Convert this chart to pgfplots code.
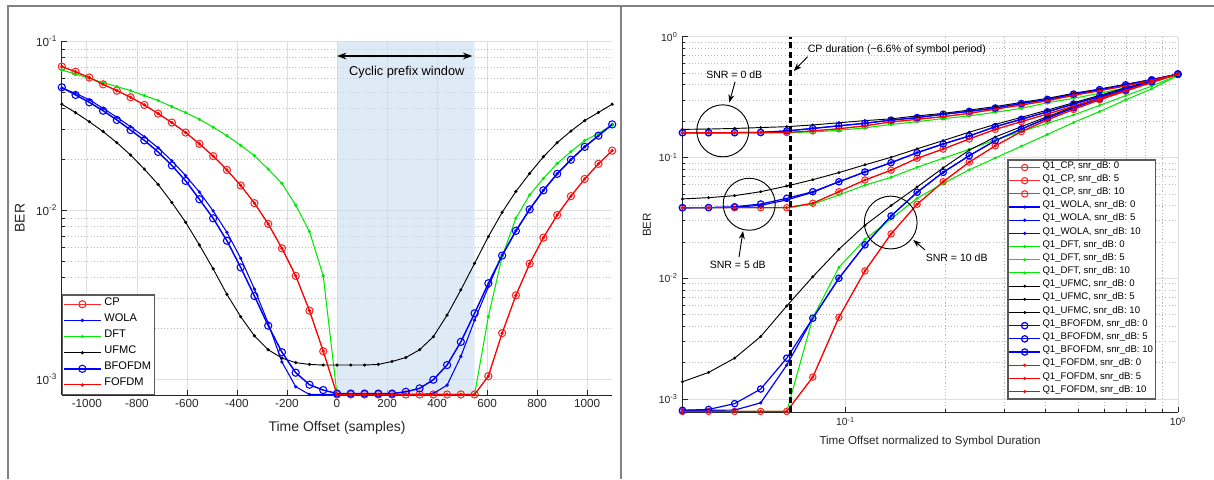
\documentclass[border=0pt]{standalone}
\usepackage{fontspec}
\setmainfont{Liberation Sans}
\usepackage{pgfplots}
\pgfplotsset{compat=1.18}
\usepackage{pgfplotstable}
\usetikzlibrary{arrows.meta}

\definecolor{axgray}{RGB}{38,38,38}
\definecolor{gridmaj}{RGB}{222,222,222}
\definecolor{gridmin}{RGB}{185,185,185}
\definecolor{framegray}{RGB}{130,130,130}
\definecolor{cpshade}{RGB}{200,222,240}
\definecolor{mred}{RGB}{255,0,0}
\definecolor{cpred}{RGB}{255,40,40}
\definecolor{mblue}{RGB}{0,0,255}
\definecolor{mgreen}{RGB}{0,235,0}
\definecolor{leggray}{RGB}{90,90,90}

\pgfplotstableread{
x cp wola dft ufmc bf
-1100 0.0708 0.0527 0.0676 0.0424 0.0534
-1045 0.0660 0.0492 0.0640 0.0378 0.0481
-990 0.0610 0.0450 0.0604 0.0334 0.0435
-935 0.0556 0.0401 0.0569 0.0292 0.0388
-880 0.0510 0.0355 0.0539 0.0251 0.0342
-825 0.0466 0.0312 0.0510 0.0212 0.0298
-770 0.0420 0.0272 0.0477 0.0175 0.0259
-715 0.0373 0.0234 0.0446 0.0142 0.0221
-660 0.0330 0.0196 0.0410 0.0111 0.0184
-605 0.0288 0.0160 0.0378 0.00847 0.0149
-550 0.0247 0.0128 0.0345 0.00622 0.0116
-495 0.0209 0.00989 0.0310 0.00449 0.00895
-440 0.0173 0.00739 0.0276 0.00317 0.00659
-385 0.0140 0.00519 0.0242 0.00234 0.00458
-330 0.0110 0.00341 0.0210 0.00180 0.00310
-275 0.00829 0.00214 0.0175 0.00149 0.00207
-220 0.00594 0.00126 0.0144 0.00133 0.00144
-165 0.00408 0.00090 0.0107 0.00125 0.00109
-110 0.00254 0.00081 0.00746 0.00122 0.000925
-55 0.00146 0.00081 0.00408 0.00121 0.00086
0 0.00081 0.00081 0.00081 0.00121 0.00082
55 0.00081 0.00081 0.00081 0.00121 0.00082
110 0.00081 0.00081 0.00081 0.00121 0.00082
165 0.00081 0.00081 0.00081 0.00122 0.00082
220 0.00081 0.00081 0.00081 0.00127 0.00082
275 0.00081 0.00081 0.00081 0.00134 0.00084
330 0.00081 0.00081 0.00081 0.00149 0.00088
385 0.00081 0.00082 0.00081 0.00178 0.00099
440 0.00081 0.00092 0.00081 0.00239 0.00121
495 0.00081 0.00136 0.00081 0.00337 0.00166
550 0.00081 0.00223 0.00081 0.00484 0.00245
605 0.00104 0.00352 0.00234 0.00697 0.00369
660 0.00187 0.00542 0.00531 0.00970 0.00538
715 0.00313 0.00754 0.00895 0.0129 0.00754
770 0.00482 0.0101 0.0123 0.0165 0.0101
825 0.00687 0.0131 0.0154 0.0207 0.0131
880 0.00935 0.0164 0.0189 0.0251 0.0164
935 0.0121 0.0199 0.0222 0.0294 0.0199
990 0.0153 0.0237 0.0258 0.0339 0.0237
1045 0.0188 0.0276 0.0285 0.0379 0.0276
1100 0.0225 0.0322 0.0319 0.0424 0.0322
}\lefttab

\pgfplotstableread{
x cp wola dft ufmc bf
0.03236 0.1604 0.1604 0.1604 0.171 0.1604
0.03877 0.1604 0.1604 0.1604 0.172 0.1604
0.04643 0.1604 0.1606 0.1604 0.174 0.1606
0.05562 0.1605 0.1615 0.1604 0.177 0.1615
0.06662 0.1610 0.166 0.1604 0.180 0.166
0.0798 0.166 0.174 0.163 0.186 0.174
0.0956 0.173 0.183 0.168 0.194 0.183
0.1145 0.183 0.192 0.176 0.202 0.192
0.1372 0.197 0.204 0.188 0.209 0.204
0.1643 0.207 0.214 0.198 0.221 0.214
0.1968 0.218 0.228 0.210 0.232 0.228
0.2357 0.232 0.241 0.221 0.247 0.241
0.2823 0.251 0.257 0.237 0.264 0.257
0.3381 0.272 0.280 0.255 0.286 0.280
0.4050 0.295 0.303 0.284 0.309 0.303
0.4853 0.327 0.335 0.309 0.340 0.335
0.5812 0.357 0.365 0.340 0.369 0.365
0.6963 0.392 0.400 0.378 0.404 0.400
0.8340 0.435 0.440 0.425 0.443 0.440
1.0 0.490 0.490 0.485 0.492 0.490
}\snrzero

\pgfplotstableread{
x cp wola dft ufmc bf
0.03236 0.0384 0.0384 0.0384 0.0454 0.0384
0.03877 0.0384 0.0384 0.0384 0.0465 0.0385
0.04643 0.0384 0.0387 0.0384 0.0483 0.0391
0.05562 0.0384 0.0402 0.0384 0.0521 0.0412
0.06662 0.0384 0.0445 0.0384 0.0580 0.0459
0.0798 0.0418 0.0515 0.0410 0.0655 0.0521
0.0956 0.0521 0.0630 0.0490 0.0750 0.0630
0.1145 0.0651 0.0759 0.0590 0.0870 0.0759
0.1372 0.0785 0.0906 0.0686 0.1004 0.0906
0.1643 0.0985 0.1096 0.0830 0.118 0.1096
0.1968 0.1175 0.1294 0.0985 0.138 0.1294
0.2357 0.1423 0.1507 0.117 0.162 0.1507
0.2823 0.171 0.180 0.140 0.188 0.180
0.3381 0.198 0.207 0.164 0.215 0.207
0.4050 0.229 0.239 0.192 0.247 0.239
0.4853 0.267 0.277 0.225 0.284 0.277
0.5812 0.309 0.320 0.270 0.327 0.320
0.6963 0.360 0.372 0.325 0.378 0.372
0.8340 0.420 0.430 0.390 0.434 0.430
1.0 0.490 0.490 0.480 0.492 0.490
}\snrfive

\pgfplotstableread{
x cp wola dft ufmc bf
0.03236 0.00079 0.000807 0.00079 0.00139 0.000807
0.03877 0.00079 0.000807 0.00079 0.00166 0.00082
0.04643 0.00079 0.00081 0.00079 0.00218 0.000916
0.05562 0.00079 0.00093 0.00079 0.00329 0.00121
0.06662 0.00079 0.00191 0.00079 0.0059 0.00218
0.0798 0.00152 0.00467 0.0047 0.0103 0.00467
0.0956 0.00475 0.0100 0.0123 0.0174 0.0100
0.1145 0.0115 0.0189 0.0210 0.0275 0.0189
0.1372 0.0233 0.0328 0.0310 0.0400 0.0328
0.1643 0.0410 0.0515 0.0460 0.0570 0.0515
0.1968 0.0630 0.0754 0.0610 0.0820 0.0754
0.2357 0.0915 0.1035 0.0790 0.115 0.1035
0.2823 0.125 0.138 0.099 0.148 0.138
0.3381 0.1637 0.172 0.124 0.180 0.172
0.4050 0.205 0.212 0.155 0.218 0.212
0.4853 0.250 0.258 0.195 0.263 0.258
0.5812 0.300 0.308 0.240 0.313 0.308
0.6963 0.355 0.362 0.300 0.366 0.362
0.8340 0.418 0.424 0.370 0.428 0.424
1.0 0.490 0.490 0.478 0.492 0.490
}\snrten

\pgfplotsset{
  mlab/.style={
    scale only axis, anchor=south west,
    axis lines*=left,
    axis line style={draw=axgray, line width=0.6pt},
    tick align=inside,
    major tick length=4pt, minor tick length=2.3pt,
    every tick/.append style={draw=axgray, line width=0.5pt},
    xmajorgrids, ymajorgrids, yminorgrids,
    major grid style={draw=gridmaj, line width=0.5pt},
    minor grid style={draw=gridmin, line width=0.45pt, dash pattern=on 0.8pt off 1.6pt},
    clip mode=individual,
    label style={text=axgray},
    tick label style={text=axgray},
    legend cell align=left,
  },
}

\begin{document}
\begin{tikzpicture}
\useasboundingbox (0,0) rectangle (910.5pt,359.25pt);
\draw[framegray, line width=1.5pt] (5.9pt,0) -- (5.9pt,355pt);
\draw[framegray, line width=1.5pt] (5.15pt,355pt) -- (910.5pt,355pt);
\draw[framegray, line width=1.5pt] (466pt,0) -- (466pt,355pt);

% ---------------- left axis ----------------
\begin{axis}[mlab,
  at={(46.35pt,63pt)}, width=412.8pt, height=265.3pt,
  xmin=-1100, xmax=1100, ymode=log, ymin=8.04e-4, ymax=0.1,
  xtick={-1000,-800,-600,-400,-200,0,200,400,600,800,1000},
  xticklabels={-1000,-800,-600,-400,-200,0,200,400,600,800,1000},
  ytick={1e-3,1e-2,1e-1},
  yticklabels={10\textsuperscript{-3},10\textsuperscript{-2},10\textsuperscript{-1}},
  tick label style={font=\fontsize{8.8}{10}\selectfont},
  xlabel={Time Offset (samples)}, ylabel={BER},
  label style={font=\fontsize{10.5}{12}\selectfont},
  xlabel style={at={(axis description cs:0.5,-0.0925)}, anchor=center},
  ylabel style={at={(axis description cs:-0.0763,0.5)}, anchor=center},
  legend image code/.code={\draw[mark repeat=2,mark phase=2,#1] plot coordinates {(0pt,0pt) (13.9pt,0pt) (27.8pt,0pt)};},
  legend style={at={(0,0)}, anchor=south west, draw=leggray, line width=1pt, fill=white,
    font=\fontsize{8.3}{9}\selectfont, inner xsep=0.5pt, inner ysep=1pt, row sep=0pt,
    nodes={inner xsep=2pt, inner ysep=0pt, text height=6.6pt, text depth=5.5pt}},
]
\addplot[draw=none, fill=cpshade, fill opacity=0.6, forget plot] coordinates {(0,8.04e-4) (550,8.04e-4) (550,0.1) (0,0.1) (0,8.04e-4)};
\addplot[color=cpred, line width=0.8pt, mark=o, mark size=2.7pt, mark options={solid}] table[x=x,y=cp]{\lefttab};
\addlegendentry{CP}
\addplot[color=mblue, line width=0.8pt, mark=*, mark size=0.8pt] table[x=x,y=wola]{\lefttab};
\addlegendentry{WOLA}
\addplot[color=mgreen, line width=0.8pt, mark=*, mark size=0.8pt] table[x=x,y=dft]{\lefttab};
\addlegendentry{DFT}
\addplot[color=black, line width=0.7pt, mark=*, mark size=0.8pt] table[x=x,y=ufmc]{\lefttab};
\addlegendentry{UFMC}
\addplot[color=mblue, line width=1.1pt, mark=o, mark size=2.7pt, mark options={solid, line width=0.8pt}] table[x=x,y=bf]{\lefttab};
\addlegendentry{BFOFDM}
\addplot[color=mred, line width=0.8pt, mark=*, mark size=0.8pt] table[x=x,y=cp]{\lefttab};
\addlegendentry{FOFDM}
\draw[{Stealth[length=7pt,width=5pt]}-{Stealth[length=7pt,width=5pt]}, line width=1pt, black] (axis cs:0,0.0818) -- (axis cs:541,0.0818);
\node[font=\fontsize{9.6}{11}\selectfont, black] at (axis cs:279,0.066) {Cyclic prefix window};
\end{axis}

% ---------------- right axis ----------------
\begin{axis}[mlab,
  at={(511.65pt,50pt)}, width=371.8pt, height=281.7pt,
  xmode=log, ymode=log, xmin=0.0323, xmax=1, ymin=7.76e-4, ymax=1,
  xminorgrids,
  xtick={0.1,1}, xticklabels={10\textsuperscript{-1},10\textsuperscript{0}},
  ytick={1e-3,1e-2,1e-1,1},
  yticklabels={10\textsuperscript{-3},10\textsuperscript{-2},10\textsuperscript{-1},10\textsuperscript{0}},
  tick label style={font=\fontsize{7.8}{9}\selectfont},
  xlabel={Time Offset normalized to Symbol Duration}, ylabel={BER},
  label style={font=\fontsize{8.7}{10}\selectfont},
  xlabel style={at={(axis description cs:0.5,-0.0783)}, anchor=center},
  ylabel style={at={(axis description cs:-0.071,0.4987)}, anchor=center},
  legend image code/.code={\draw[mark repeat=2,mark phase=2,#1] plot coordinates {(0pt,0pt) (11.5pt,0pt) (23pt,0pt)};},
  legend style={at={(0.6558,0.6736)}, anchor=north west, draw=leggray, line width=1pt, fill=white,
    font=\fontsize{7.2}{8}\selectfont, inner xsep=0.6pt, inner ysep=0.7pt, row sep=0pt,
    nodes={inner xsep=1.4pt, inner ysep=0pt, text height=5.4pt, text depth=4.485pt}},
]
\addplot[color=cpred, line width=0.8pt, mark=o, mark size=2.4pt, mark options={solid}] table[x=x,y=cp]{\snrzero};
\addlegendentry{Q1\_CP, snr\_dB: 0}
\addplot[color=cpred, line width=0.8pt, mark=o, mark size=2.4pt, mark options={solid}] table[x=x,y=cp]{\snrfive};
\addlegendentry{Q1\_CP, snr\_dB: 5}
\addplot[color=cpred, line width=0.8pt, mark=o, mark size=2.4pt, mark options={solid}] table[x=x,y=cp]{\snrten};
\addlegendentry{Q1\_CP, snr\_dB: 10}
\addplot[color=mblue, line width=0.9pt, mark=*, mark size=0.7pt] table[x=x,y=wola]{\snrzero};
\addlegendentry{Q1\_WOLA, snr\_dB: 0}
\addplot[color=mblue, line width=0.9pt, mark=*, mark size=0.7pt] table[x=x,y=wola]{\snrfive};
\addlegendentry{Q1\_WOLA, snr\_dB: 5}
\addplot[color=mblue, line width=0.9pt, mark=*, mark size=0.7pt] table[x=x,y=wola]{\snrten};
\addlegendentry{Q1\_WOLA, snr\_dB: 10}
\addplot[color=mgreen, line width=0.8pt, mark=*, mark size=0.7pt] table[x=x,y=dft]{\snrzero};
\addlegendentry{Q1\_DFT, snr\_dB: 0}
\addplot[color=mgreen, line width=0.8pt, mark=*, mark size=0.7pt] table[x=x,y=dft]{\snrfive};
\addlegendentry{Q1\_DFT, snr\_dB: 5}
\addplot[color=mgreen, line width=0.8pt, mark=*, mark size=0.7pt] table[x=x,y=dft]{\snrten};
\addlegendentry{Q1\_DFT, snr\_dB: 10}
\addplot[color=black, line width=0.7pt, mark=*, mark size=0.7pt] table[x=x,y=ufmc]{\snrzero};
\addlegendentry{Q1\_UFMC, snr\_dB: 0}
\addplot[color=black, line width=0.7pt, mark=*, mark size=0.7pt] table[x=x,y=ufmc]{\snrfive};
\addlegendentry{Q1\_UFMC, snr\_dB: 5}
\addplot[color=black, line width=0.7pt, mark=*, mark size=0.7pt] table[x=x,y=ufmc]{\snrten};
\addlegendentry{Q1\_UFMC, snr\_dB: 10}
\addplot[color=mblue, line width=0.9pt, mark=o, mark size=2.4pt, mark options={solid}] table[x=x,y=bf]{\snrzero};
\addlegendentry{Q1\_BFOFDM, snr\_dB: 0}
\addplot[color=mblue, line width=0.9pt, mark=o, mark size=2.4pt, mark options={solid}] table[x=x,y=bf]{\snrfive};
\addlegendentry{Q1\_BFOFDM, snr\_dB: 5}
\addplot[color=mblue, line width=0.9pt, mark=o, mark size=2.4pt, mark options={solid}] table[x=x,y=bf]{\snrten};
\addlegendentry{Q1\_BFOFDM, snr\_dB: 10}
\addplot[color=mred, line width=0.8pt, mark=*, mark size=0.7pt] table[x=x,y=cp]{\snrzero};
\addlegendentry{Q1\_FOFDM, snr\_dB: 0}
\addplot[color=mred, line width=0.8pt, mark=*, mark size=0.7pt] table[x=x,y=cp]{\snrfive};
\addlegendentry{Q1\_FOFDM, snr\_dB: 5}
\addplot[color=mred, line width=0.8pt, mark=*, mark size=0.7pt] table[x=x,y=cp]{\snrten};
\addlegendentry{Q1\_FOFDM, snr\_dB: 10}
\addplot[black, line width=1.6pt, dash pattern=on 4.5pt off 2.5pt, forget plot] coordinates {(0.0684,7.76e-4) (0.0684,1)};
% annotations
\draw[black, line width=0.7pt] (rel axis cs:0.0819,0.7495) circle [radius=19.5pt];
\draw[black, line width=0.7pt] (rel axis cs:0.1352,0.554) circle [radius=19.5pt];
\draw[black, line width=0.7pt] (rel axis cs:0.4206,0.5053) circle [radius=19.8pt];
\node[font=\fontsize{7.9}{9}\selectfont, black] at (rel axis cs:0.105,0.898) {SNR = 0 dB};
\draw[-{Stealth[length=6pt,width=4.5pt]}, line width=0.7pt, black] (rel axis cs:0.1067,0.880) -- (rel axis cs:0.0950,0.825);
\node[font=\fontsize{7.9}{9}\selectfont, black] at (rel axis cs:0.112,0.392) {SNR = 5 dB};
\draw[-{Stealth[length=6pt,width=4.5pt]}, line width=0.7pt, black] (rel axis cs:0.1146,0.4135) -- (rel axis cs:0.1227,0.4827);
\node[font=\fontsize{7.9}{9}\selectfont, black] at (rel axis cs:0.5537,0.4116) {SNR = 10 dB};
\draw[-{Stealth[length=6pt,width=4.5pt]}, line width=0.7pt, black] (rel axis cs:0.4898,0.4323) -- (rel axis cs:0.4662,0.4589);
\node[font=\fontsize{8}{9}\selectfont, black, anchor=west, inner sep=0pt] at (rel axis cs:0.2528,0.9646) {CP duration (\textasciitilde6.6\% of symbol period)};
\draw[-{Stealth[length=6pt,width=4.5pt]}, line width=0.7pt, black] (rel axis cs:0.2528,0.9467) -- (rel axis cs:0.2251,0.9087);
\end{axis}
\end{tikzpicture}
\end{document}
